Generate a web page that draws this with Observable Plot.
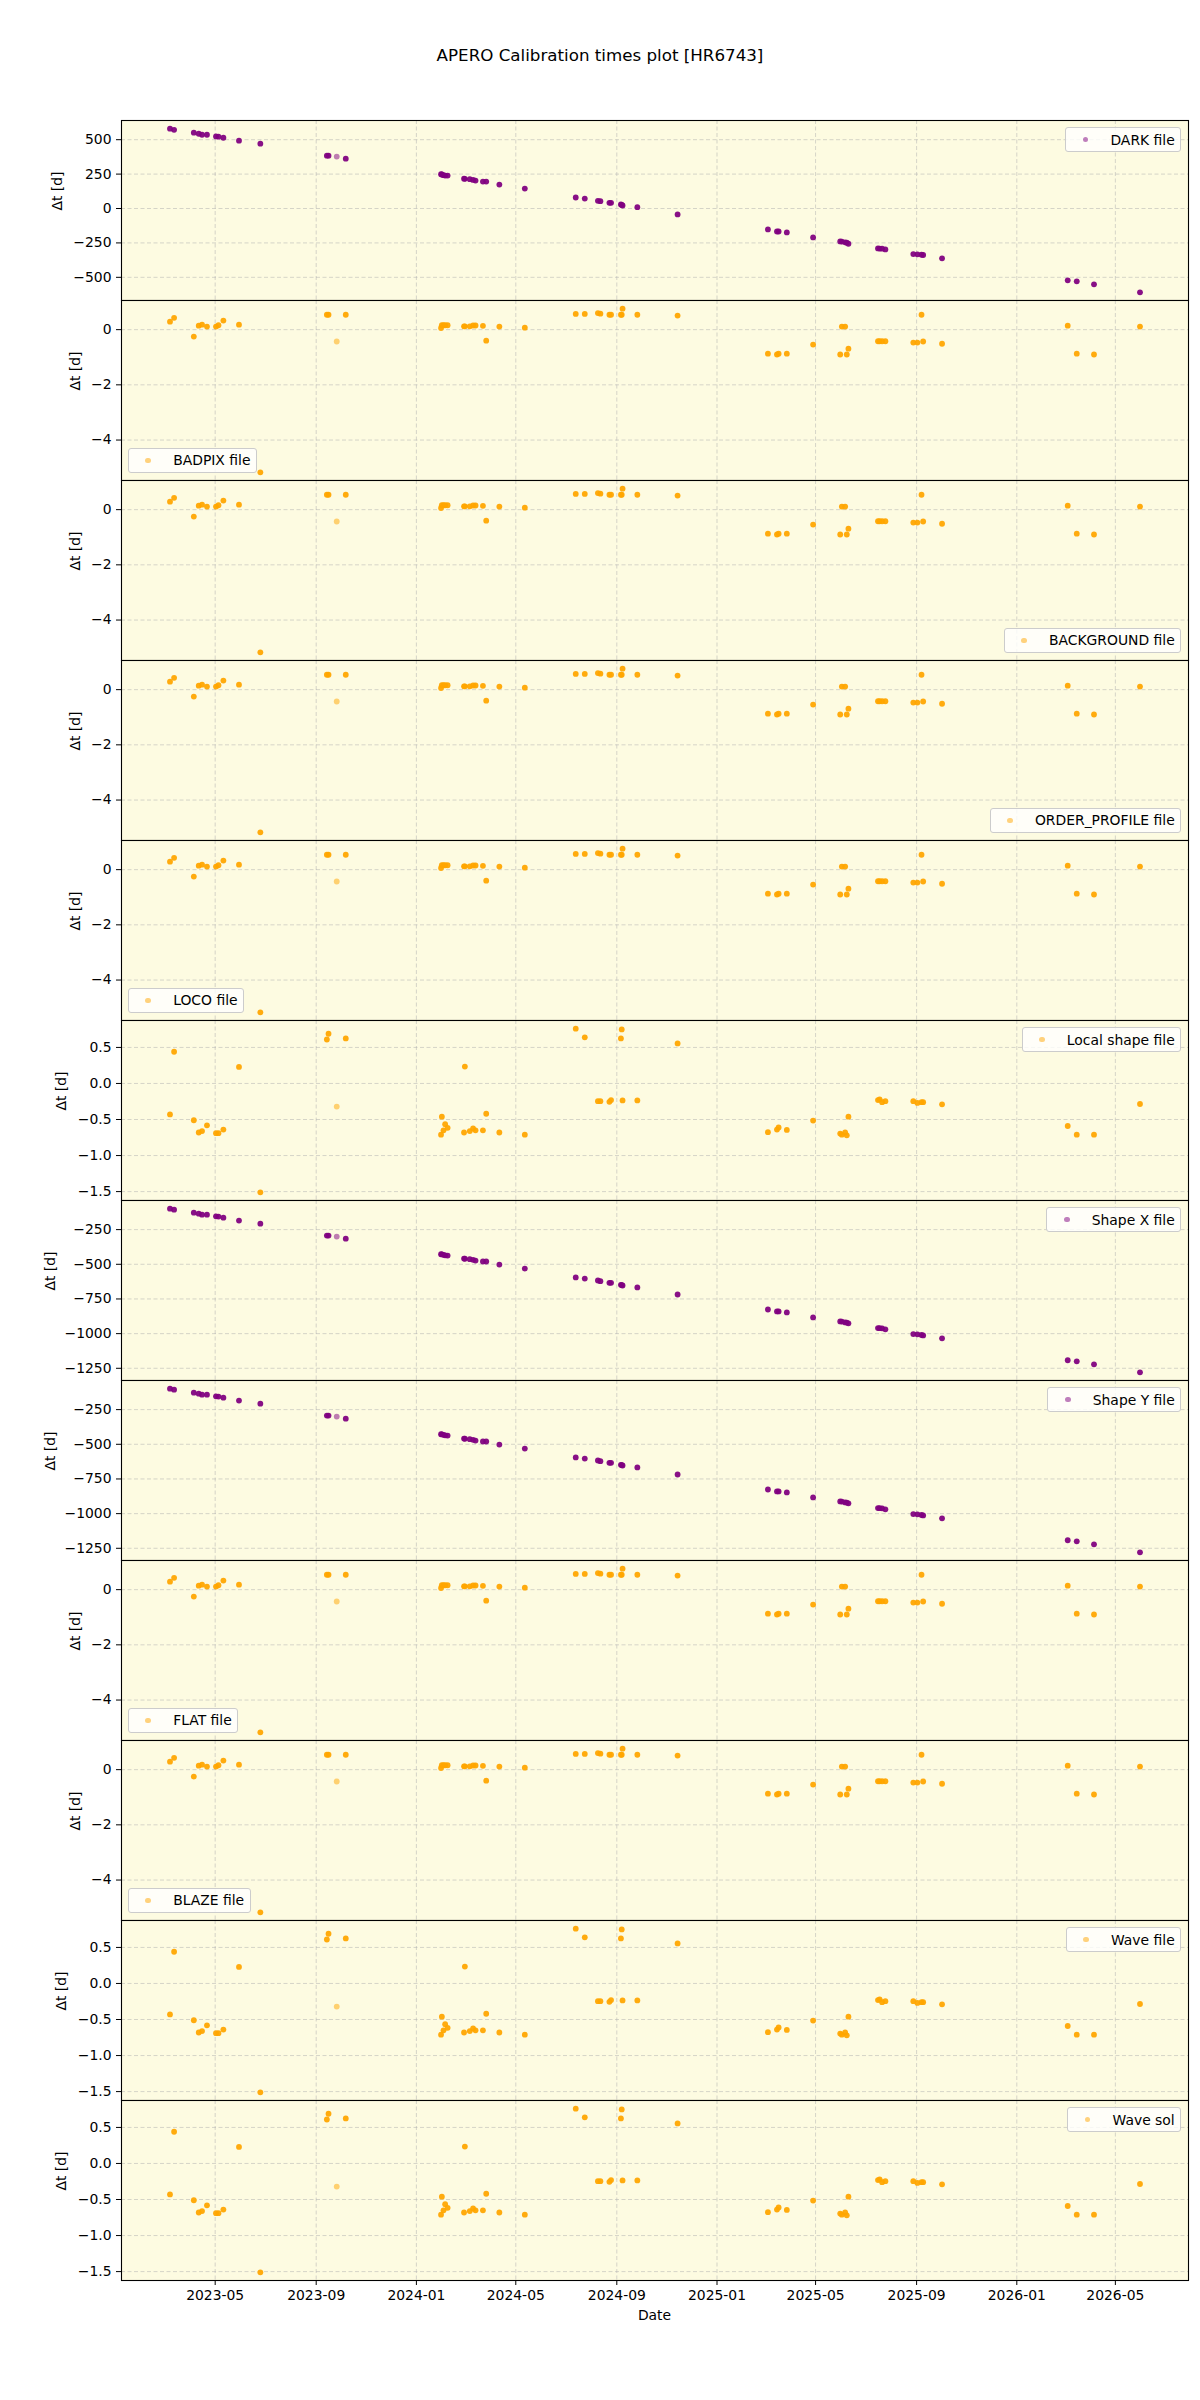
<!DOCTYPE html>
<html>
<head>
<meta charset="utf-8">
<script src="https://cdn.jsdelivr.net/npm/d3@7"></script>
<script src="https://cdn.jsdelivr.net/npm/@observablehq/plot@0.6"></script>
<style>
  html, body { margin: 0; padding: 0; background: #ffffff; overflow: hidden; }
  #fig { position: relative; width: 1200px; height: 2400px; background: #ffffff;
         font-family: "DejaVu Sans", sans-serif; color: #000; }
  .title { position: absolute; top: 45px; left: 0; width: 1200px; text-align: center;
           font-size: 16.7px; line-height: 20px; }
  .panel { position: absolute; left: 0; }
  .panel svg { overflow: visible; }
  .legend { position: absolute; display: flex; align-items: center; font-size: 13.9px;
            line-height: 14px; padding: 4.8px 5.4px; border: 1px solid #cccccc; border-radius: 3px;
            background: rgba(255, 255, 255, 0.8); white-space: nowrap; }
  .legend .h { width: 27.8px; display: flex; justify-content: center; align-items: center; }
  .legend .m { width: 5.6px; height: 5.6px; border-radius: 50%; opacity: 0.5; }
  .legend .t { margin-left: 11.1px; }
  .xlabel { position: absolute; top: 2306px; left: 121px; width: 1067px; text-align: center;
            font-size: 13.9px; line-height: 18px; }
</style>
</head>
<body>
<div id="fig"></div>
<script>
// ---- Observation nights (one entry per night of science frames) ----
const obsDates = [
  "2023-03-07","2023-03-12","2023-04-05","2023-04-11","2023-04-15","2023-04-21","2023-05-02","2023-05-05",
  "2023-05-11","2023-05-30","2023-06-25","2023-09-14","2023-09-16","2023-09-26","2023-10-07","2024-01-31",
  "2024-02-01","2024-02-03","2024-02-05","2024-02-08","2024-02-28","2024-02-29","2024-03-06","2024-03-10",
  "2024-03-13","2024-03-22","2024-03-26","2024-04-11","2024-05-12","2024-07-13","2024-07-24","2024-08-09",
  "2024-08-12","2024-08-23","2024-08-25","2024-09-06","2024-09-07","2024-09-08","2024-09-26","2024-11-14",
  "2025-03-04","2025-03-15","2025-03-17","2025-03-27","2025-04-28","2025-05-31","2025-06-02","2025-06-06",
  "2025-06-08","2025-06-10","2025-07-16","2025-07-18","2025-07-21","2025-07-25","2025-08-28","2025-09-02",
  "2025-09-07","2025-09-09","2025-10-02","2026-03-04","2026-03-15","2026-04-05","2026-05-31"
];

// number of files per night (overlapping semi-transparent points)
const nFiles = [
  4,4,4,4,4,4,4,4,4,4,4,4,4,1,4,4,4,4,4,4,4,4,4,4,4,4,4,4,4,4,4,4,
  4,4,4,4,4,4,4,4,4,4,4,4,4,4,4,4,4,4,4,4,4,4,4,4,4,4,4,4,4,4,4
];

// Δt [d] between each night and the calibration file it used
const darkDt = [
  580,572,551,543,536,536,524,522,514,493,471,384,384,377,362,249,
  247,242,239,239,217,216,213,208,203,196,196,174,145,80,72,56,
  53,41,41,29,27,22,10,-43,-152,-167,-167,-174,-210,-239,-240,-246,
  -248,-256,-290,-291,-292,-297,-331,-333,-336,-338,-362,-522,-529,-551,-609
];

// BADPIX, BACKGROUND, ORDER_PROFILE, LOCO, FLAT and BLAZE share the same night-time calibrations
const detectorDt = [
  0.29,0.43,-0.25,0.145,0.18,0.11,0.11,0.16,0.33,0.18,-5.17,0.54,0.54,-0.43,0.54,0.06,
  0.16,0.16,0.16,0.16,0.12,0.12,0.12,0.15,0.15,0.14,-0.40,0.11,0.07,0.57,0.57,0.60,
  0.58,0.54,0.54,0.54,0.54,0.76,0.54,0.51,-0.87,-0.90,-0.87,-0.87,-0.54,-0.90,0.11,0.11,
  -0.90,-0.69,-0.42,-0.42,-0.42,-0.42,-0.47,-0.47,0.54,-0.43,-0.51,0.145,-0.87,-0.90,0.11
];

// Local shape, Wave file and Wave sol
const waveDt = [
  -0.43,0.44,-0.51,-0.68,-0.66,-0.58,-0.69,-0.69,-0.64,0.23,-1.51,0.61,0.69,-0.32,0.625,-0.71,
  -0.46,-0.65,-0.565,-0.615,-0.68,0.235,-0.66,-0.625,-0.65,-0.65,-0.42,-0.68,-0.71,0.76,0.64,-0.245,
  -0.245,-0.255,-0.23,0.625,0.75,-0.235,-0.235,0.555,-0.675,-0.64,-0.61,-0.645,-0.515,-0.695,-0.71,-0.68,
  -0.72,-0.46,-0.23,-0.22,-0.26,-0.245,-0.245,-0.27,-0.26,-0.26,-0.29,-0.59,-0.71,-0.71,-0.285
];

// Shape X and Shape Y
const shapeDt = [
  -99,-106,-128,-135,-142,-142,-154,-156,-164,-185,-207,-293,-293,-300,-315,-427,
  -429,-432,-435,-437,-459,-460,-463,-468,-473,-480,-480,-502,-531,-595,-603,-617,
  -622,-634,-634,-648,-650,-653,-667,-718,-826,-840,-840,-847,-883,-912,-913,-919,
  -920,-926,-960,-961,-962,-969,-1003,-1005,-1010,-1013,-1034,-1192,-1200,-1221,-1279
];

// ---- Tick labels ----
const xTickLabels = ["2023-05","2023-09","2024-01","2024-05","2024-09","2025-01","2025-05","2025-09","2026-01","2026-05"];
const darkTicks = [-500, -250, 0, 250, 500];
const detectorTicks = [-4, -2, 0];
const waveTicks = [-1.5, -1.0, -0.5, 0.0, 0.5];
const shapeTicks = [-1250, -1000, -750, -500, -250];

// ---- Panels, top to bottom ----
const PURPLE = "#800080", ORANGE = "#ffa500";
const panels = [
  {name: "DARK file",          values: darkDt,     ticks: darkTicks,     fmt: d3.format("d"),   color: PURPLE, legend: "upper right", labelDx: -64},
  {name: "BADPIX file",        values: detectorDt, ticks: detectorTicks, fmt: d3.format("d"),   color: ORANGE, legend: "lower left",  labelDx: -46},
  {name: "BACKGROUND file",    values: detectorDt, ticks: detectorTicks, fmt: d3.format("d"),   color: ORANGE, legend: "lower right", labelDx: -46},
  {name: "ORDER_PROFILE file", values: detectorDt, ticks: detectorTicks, fmt: d3.format("d"),   color: ORANGE, legend: "lower right", labelDx: -46},
  {name: "LOCO file",          values: detectorDt, ticks: detectorTicks, fmt: d3.format("d"),   color: ORANGE, legend: "lower left",  labelDx: -46},
  {name: "Local shape file",   values: waveDt,     ticks: waveTicks,     fmt: d3.format(".1f"), color: ORANGE, legend: "upper right", labelDx: -60},
  {name: "Shape X file",       values: shapeDt,    ticks: shapeTicks,    fmt: d3.format("d"),   color: PURPLE, legend: "upper right", labelDx: -71},
  {name: "Shape Y file",       values: shapeDt,    ticks: shapeTicks,    fmt: d3.format("d"),   color: PURPLE, legend: "upper right", labelDx: -71},
  {name: "FLAT file",          values: detectorDt, ticks: detectorTicks, fmt: d3.format("d"),   color: ORANGE, legend: "lower left",  labelDx: -46},
  {name: "BLAZE file",         values: detectorDt, ticks: detectorTicks, fmt: d3.format("d"),   color: ORANGE, legend: "lower left",  labelDx: -46},
  {name: "Wave file",          values: waveDt,     ticks: waveTicks,     fmt: d3.format(".1f"), color: ORANGE, legend: "upper right", labelDx: -60},
  {name: "Wave sol",           values: waveDt,     ticks: waveTicks,     fmt: d3.format(".1f"), color: ORANGE, legend: "upper right", labelDx: -60}
];

// ---- Layout ----
const FIG_W = 1200, FIG_H = 2400;
const AX_LEFT = 121, AX_RIGHT = 1188, AX_TOP = 120, PANEL_H = 180;
const BG = "#fdfbe1", GRID = "#b0b0b0";
const FONT = "DejaVu Sans, sans-serif";

const parseDay = d3.utcParse("%Y-%m-%d");
const parseMonth = d3.utcParse("%Y-%m");
const dates = obsDates.map(parseDay);
const xTicks = xTickLabels.map(parseMonth);

// 5% padding around the data, as in the usual autoscale
function padded(extent) {
  const [a, b] = extent, p = (b - a) * 0.05;
  return [a - p, b + p];
}
const xDom = padded(d3.extent(dates, d => +d)).map(t => new Date(t));

const fig = document.getElementById("fig");

const title = document.createElement("div");
title.className = "title";
title.textContent = "APERO Calibration times plot [HR6743]";
fig.appendChild(title);

panels.forEach((p, k) => {
  const isLast = k === panels.length - 1;
  const top = AX_TOP + k * PANEL_H;
  const rows = dates.map((d, j) => ({date: d, dt: p.values[j], n: nFiles[j]}));
  const yDom = padded(d3.extent(p.values));
  const gridStyle = {stroke: GRID, strokeOpacity: 0.65, strokeWidth: 0.8, strokeDasharray: "4,2.5"};

  const chart = Plot.plot({
    width: FIG_W,
    height: PANEL_H + (isLast ? 30 : 0),
    marginLeft: AX_LEFT,
    marginRight: FIG_W - AX_RIGHT,
    marginTop: 0,
    marginBottom: isLast ? 30 : 0,
    style: {fontFamily: FONT, fontSize: "13.9px", background: "transparent", color: "#000", overflow: "visible"},
    x: {
      type: "utc", domain: xDom, label: null,
      axis: isLast ? "bottom" : null,
      ticks: xTicks, tickFormat: d3.utcFormat("%Y-%m"), tickSize: 5, tickPadding: 5
    },
    y: {
      domain: yDom, label: null,
      ticks: p.ticks, tickFormat: p.fmt, tickSize: 5, tickPadding: 5
    },
    marks: [
      Plot.frame({fill: BG, stroke: null}),
      Plot.gridX(xTicks, gridStyle),
      Plot.gridY(p.ticks, gridStyle),
      Plot.dot(rows, {
        x: "date", y: "dt", r: 2.9, fill: p.color, stroke: null,
        fillOpacity: d => 1 - Math.pow(0.5, d.n)
      }),
      Plot.frame({stroke: "#000", strokeWidth: 1.1, fill: null}),
      Plot.text(["Δt [d]"], {
        text: d => d, frameAnchor: "left", dx: p.labelDx, rotate: -90,
        fontSize: 13.9, fill: "#000"
      })
    ]
  });

  const wrap = document.createElement("div");
  wrap.className = "panel";
  wrap.style.top = top + "px";
  wrap.appendChild(chart);
  fig.appendChild(wrap);

  // legend box inside the panel
  const lg = document.createElement("div");
  lg.className = "legend";
  lg.innerHTML = `<span class="h"><span class="m" style="background:${p.color}"></span></span><span class="t"></span>`;
  lg.querySelector(".t").textContent = p.name;
  const inset = 6.9;
  if (p.legend.startsWith("upper")) lg.style.top = (top + inset) + "px";
  else lg.style.bottom = (FIG_H - (top + PANEL_H) + inset) + "px";
  if (p.legend.endsWith("right")) lg.style.right = (FIG_W - AX_RIGHT + inset) + "px";
  else lg.style.left = (AX_LEFT + inset) + "px";
  fig.appendChild(lg);
});

const xl = document.createElement("div");
xl.className = "xlabel";
xl.textContent = "Date";
fig.appendChild(xl);
</script>
</body>
</html>
